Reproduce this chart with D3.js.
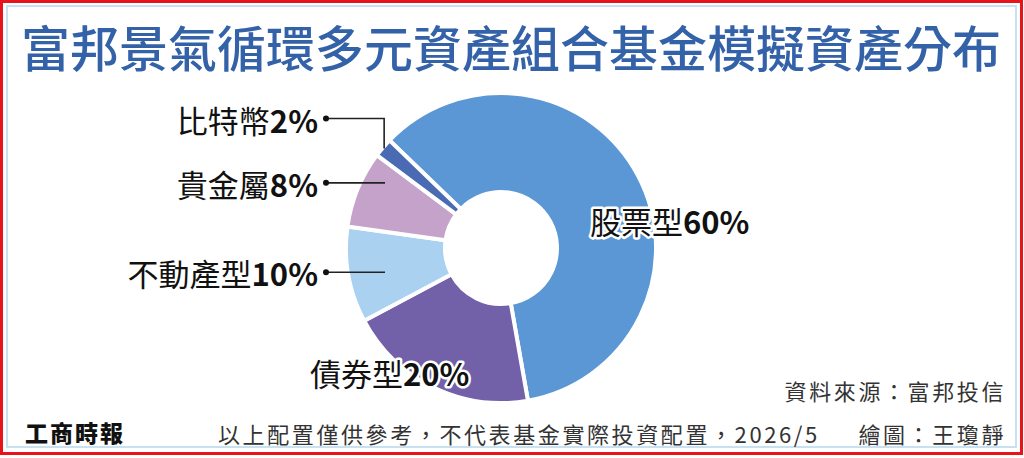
<!DOCTYPE html>
<html>
<head>
<meta charset="utf-8">
<script src="https://cdn.jsdelivr.net/npm/d3@7"></script>
<style>
  html, body { margin: 0; padding: 0; background: #fff; }
  svg { display: block; }
  text { font-family: "Noto Sans CJK TC", "Noto Sans", sans-serif; }
</style>
</head>
<body>
<div id="chart"></div>
<script>
const categories = ["股票型", "債券型", "不動產型", "貴金屬", "比特幣"];
const shares = [60, 20, 10, 8, 2];
const sliceColors = ["#5a97d4", "#7260a8", "#abd1f1", "#c4a2c9", "#4a6ab4"];

const title = "富邦景氣循環多元資產組合基金模擬資產分布";
const source = "資料來源：富邦投信";
const note = "以上配置僅供參考，不代表基金實際投資配置，2026/5";
const credit = "繪圖：王瓊靜";
const logo = "工商時報";

function renderDonut(containerSelector) {
    const width = 1024, height = 458;
    const cx = 501, cy = 248;
    const outerR = 155, innerR = 56;

    const svg = d3.select(containerSelector).append("svg")
        .attr("width", width)
        .attr("height", height);

    // frame: red outer border + light blue inner line
    svg.append("rect")
        .attr("x", 1.5).attr("y", 1.5)
        .attr("width", width - 4).attr("height", height - 6)
        .attr("fill", "#fff")
        .attr("stroke", "#e8141c").attr("stroke-width", 3);
    svg.append("rect")
        .attr("x", 7).attr("y", 6)
        .attr("width", width - 15).attr("height", height - 17)
        .attr("fill", "none")
        .attr("stroke", "#c9e0f0").attr("stroke-width", 2);

    // title
    svg.append("text")
        .attr("x", width / 2 - 1).attr("y", 45)
        .attr("text-anchor", "middle")
        .attr("dominant-baseline", "central")
        .attr("fill", "#3462a8")
        .attr("font-size", 49)
        .attr("font-weight", 500)
        .text(title);

    const data = categories.map((c, i) => ({ name: c, value: shares[i], color: sliceColors[i] }));

    const startA = -46 * Math.PI / 180;
    const pie = d3.pie()
        .value(d => d.value)
        .sort(null)
        .startAngle(startA)
        .endAngle(startA + 2 * Math.PI);

    const arc = d3.arc().innerRadius(innerR).outerRadius(outerR);
    const arcs = pie(data);

    const g = svg.append("g").attr("transform", `translate(${cx},${cy})`);

    g.selectAll("path")
        .data(arcs)
        .join("path")
        .attr("d", arc)
        .attr("fill", d => d.data.color)
        .attr("stroke", "#fff")
        .attr("stroke-width", 4)
        .attr("stroke-linejoin", "miter");

    // hole edge
    g.append("circle").attr("r", innerR + 1).attr("fill", "#fff");

    // label layout (relative to donut centre)
    const layout = {
        "股票型": { side: "in", x: 89, y: -28 },
        "債券型": { side: "in", x: -191, y: 124 },
        "不動產型": { side: "left", r: 0.9, dy: 0 },
        "貴金屬": { side: "left", r: 0.9, dy: -12 },
        "比特幣": { side: "left", r: 0.99, dy: -30, elbow: true }
    };

    const labelFont = 31;
    const textEndX = -183, dotX = -175, lineEndX = -116;

    function addLabel(sel, d, x, y, anchor) {
        const t = sel.append("text")
            .attr("x", x).attr("y", y)
            .attr("text-anchor", anchor)
            .attr("dominant-baseline", "central")
            .attr("font-size", labelFont)
            .attr("fill", "#111")
            .attr("stroke", "#fff").attr("stroke-width", 5)
            .attr("stroke-linejoin", "round")
            .attr("paint-order", "stroke");
        t.append("tspan").attr("font-weight", 400).text(d.data.name);
        t.append("tspan").attr("font-weight", 700).text(d.data.value + "%");
    }

    arcs.forEach(d => {
        const L = layout[d.data.name];
        if (L.side === "in") {
            addLabel(g, d, L.x, L.y, "start");
            return;
        }
        const mid = (d.startAngle + d.endAngle) / 2;
        const r = outerR * L.r;
        const ax = Math.sin(mid) * r, ay = -Math.cos(mid) * r;
        const ly = ay + L.dy;
        const path = L.elbow
            ? `M${dotX},${ly}H${ax}V${ay}`
            : `M${dotX},${ly}H${lineEndX}`;
        g.append("path")
            .attr("d", path)
            .attr("fill", "none")
            .attr("stroke", "#222")
            .attr("stroke-width", 1.6);
        g.append("circle").attr("cx", dotX).attr("cy", ly).attr("r", 3).attr("fill", "#111");
        addLabel(g, d, textEndX, ly, "end");
    });

    // footer
    const foot = (x, y, anchor, txt) => svg.append("text")
        .attr("x", x).attr("y", y)
        .attr("text-anchor", anchor).attr("dominant-baseline", "central")
        .attr("font-size", 22).attr("fill", "#333")
        .attr("letter-spacing", 2.6)
        .text(txt);
    foot(1006, 390, "end", source);
    foot(218, 433, "start", note);
    foot(1006, 433, "end", credit);

    svg.append("text")
        .attr("x", 25).attr("y", 432)
        .attr("text-anchor", "start").attr("dominant-baseline", "central")
        .attr("font-size", 23).attr("font-weight", 900).attr("fill", "#111")
        .attr("letter-spacing", 2)
        .text(logo);
}

renderDonut("#chart");
</script>
</body>
</html>
